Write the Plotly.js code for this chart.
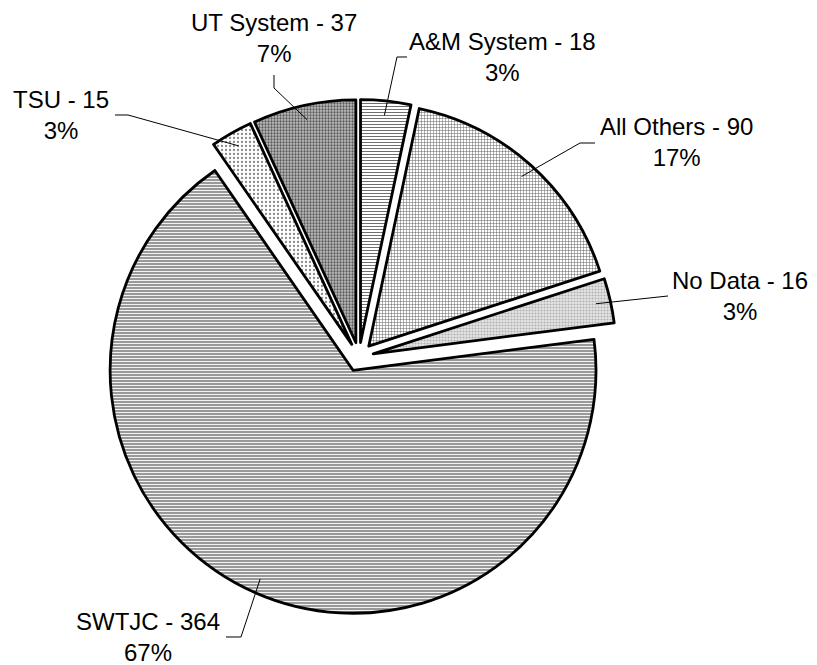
<!DOCTYPE html>
<html>
<head>
<meta charset="utf-8">
<script src="https://cdn.plot.ly/plotly-3.0.1.min.js"></script>
<style>html,body{margin:0;padding:0;background:#fff}#chart{width:817px;height:665px}</style>
</head>
<body>
<div id="chart"></div>
<script>
// ---- data ----
var categories = ["A&M System", "All Others", "No Data", "SWTJC", "TSU", "UT System"];
var values = [18, 90, 16, 364, 15, 37];

// ---- styling (per slice) ----
var patShapes = ["-", "+", ".", "-", ".", "."];
var patBg = ["#ffffff", "#ffffff", "#e6e6e6", "#8f8f8f", "#ffffff", "#bdbdbd"];
var patFg = ["#707070", "#606060", "#b0b0b0", "#f2f2f2", "#8a8a8a", "#5a5a5a"];
var patSize = [3, 3, 3, 3, 4, 3];
var patSolid = [0.35, 0.3, 0.4, 0.4, 0.25, 0.45];

// label layout (pixels): block centre, elbow, end of leader line
var labelPos = [
  {x: 503, y: 57,  elbow: [397, 57],  end: [407, 57]},
  {x: 676, y: 142, elbow: [580, 143], end: [595, 143]},
  {x: 740, y: 296, elbow: null,       end: [668, 296]},
  {x: 148, y: 637, elbow: [241, 637], end: [226, 637]},
  {x: 61,  y: 115, elbow: [128, 115], end: [115, 115]},
  {x: 274, y: 38,  elbow: [274, 88],  end: [274, 75]}
];

var W = 817, H = 665;
var total = values.reduce(function(a, b){ return a + b; }, 0);
var labelTexts = categories.map(function(c, i){
  return c + " - " + values[i] + "<br>" + Math.round(values[i] / total * 100) + "%";
});

var trace = {
  type: "pie",
  labels: categories,
  values: values,
  sort: false,
  direction: "clockwise",
  rotation: 0,
  pull: values.map(function(){ return 0.06; }),
  textinfo: "none",
  hoverinfo: "label+value+percent",
  domain: {x: [0.1242, 0.7546], y: [0.0759, 0.8504]},
  marker: {
    colors: patBg,
    line: {color: "#000000", width: 2.8},
    pattern: {shape: patShapes, bgcolor: patBg, fgcolor: patFg, size: patSize, solidity: patSolid, fillmode: "replace"}
  },
  showlegend: false
};

function px2paper(p){ return [p[0] / W, 1 - p[1] / H]; }

var annotations = labelPos.map(function(lp, i){
  return {
    xref: "paper", yref: "paper",
    x: lp.x / W, y: 1 - lp.y / H,
    xanchor: "center", yanchor: "middle",
    text: labelTexts[i], showarrow: false,
    font: {family: "Liberation Sans, Arial, sans-serif", size: 24, color: "#000"}
  };
});

var layout = {
  width: W, height: H,
  margin: {l: 0, r: 0, t: 0, b: 0},
  paper_bgcolor: "#ffffff",
  plot_bgcolor: "#ffffff",
  annotations: annotations,
  showlegend: false
};

var gd = document.getElementById("chart");
Plotly.newPlot(gd, [trace], layout, {staticPlot: true}).then(function(){
  var cd = gd.calcdata[0];
  var cd0 = cd[0];
  var shapes = [];
  cd.forEach(function(pt, k){
    var i = pt.i !== undefined ? pt.i : k;
    var lp = labelPos[i];
    var pull = pt.pull || 0;
    var start = [cd0.cx + pt.pxmid[0] * (1 + pull), cd0.cy + pt.pxmid[1] * (1 + pull)];
    var pts = [start];
    if (lp.elbow) pts.push(lp.elbow);
    pts.push(lp.end);
    var path = pts.map(function(p, j){
      var q = px2paper(p);
      return (j === 0 ? "M" : "L") + q[0].toFixed(5) + "," + q[1].toFixed(5);
    }).join(" ");
    shapes.push({type: "path", xref: "paper", yref: "paper", path: path,
      line: {color: "#000000", width: 1}});
  });
  return Plotly.relayout(gd, {shapes: shapes});
});
</script>
</body>
</html>
